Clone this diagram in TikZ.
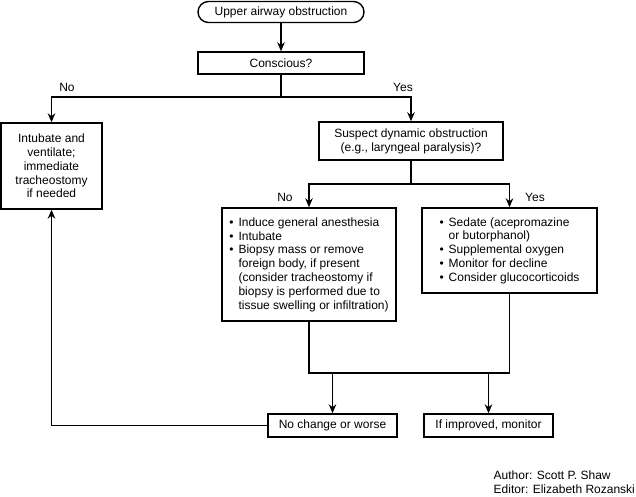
\documentclass[tikz,border=0pt]{standalone}
\usepackage{fontspec}
\setmainfont{Liberation Sans}
\usepackage{tikz}
\usetikzlibrary{arrows.meta,calc}
\newcommand{\itm}{\textbullet\hspace{5pt}}
\newcommand{\ind}{\phantom{\itm}}

\begin{document}
\begin{tikzpicture}[x=1pt,y=-1pt,>={Stealth[length=9pt,width=7.5pt]},line width=1.4pt,
  every node/.style={font=\fontsize{12}{13.8}\selectfont,inner sep=0pt},
  box/.style={draw,line width=1.4pt,rectangle,align=center},
  listbox/.style={draw,line width=1.4pt,rectangle,align=left},
  startbox/.style={draw,line width=1.4pt,rectangle,rounded corners=10.5pt,minimum width=166pt,minimum height=21pt}]
\useasboundingbox (0,0) rectangle (636,497);

% boxes
\node[startbox] (start) at (281,12) {Upper airway obstruction};
\node[box,minimum width=166pt,minimum height=22pt] (consc) at (281,63) {Conscious?};
\node[box,minimum width=101pt,minimum height=86pt] (intub) at (51.5,166) {Intubate and\\ventilate;\\immediate\\tracheostomy\\if needed};
\node[box,minimum width=184pt,minimum height=38pt] (suspect) at (411,141) {Suspect dynamic obstruction\\(e.g., laryngeal paralysis)?};
\node[listbox,minimum width=174pt,minimum height=113pt] (induce) at (309,264.5) {\itm Induce general anesthesia\\\itm Intubate\\\itm Biopsy mass or remove\\\ind foreign body, if present\\\ind (consider tracheostomy if\\\ind biopsy is performed due to\\\ind tissue swelling or infiltration)};
\node[listbox,minimum width=175pt,minimum height=85pt] (sedate) at (509.5,250.5) {\itm Sedate (acepromazine\\\ind or butorphanol)\\\itm Supplemental oxygen\\\itm Monitor for decline\\\itm Consider glucocorticoids};
\node[box,minimum width=129pt,minimum height=23pt] (nochange) at (332.5,425.5) {No change or worse};
\node[box,minimum width=129pt,minimum height=23pt] (improved) at (488.5,425.5) {If improved, monitor};

% labels
\node (no1) at (67,87) {No};
\node (yes1) at (403,87) {Yes};
\node (no2) at (285,197) {No};
\node (yes2) at (535,197) {Yes};
\node[anchor=north west,align=left] (credit) at (493,470) {Author: Scott P. Shaw\\Editor: Elizabeth Rozanski};

% connectors
\coordinate (split1) at (281,97);
\coordinate (split2) at (411,184);
\coordinate (jl) at (309,373);
\coordinate (jr) at (509.5,373);
\draw[->] (start) -- (consc);
\draw (consc.south) -- (split1);
\draw[->] (split1) -| (intub.north);
\draw[->] (split1) -| (suspect.north);
\draw (suspect.south) -- (split2);
\draw[->] (split2) -| (induce.north);
\draw[->] (split2) -| (sedate.north);
\draw (induce.south) -- (jl) -- (jr) -- (sedate.south);
\draw[->] (nochange.north |- jl) -- (nochange.north);
\draw[->] (improved.north |- jl) -- (improved.north);
\draw[->] (nochange.west) -| (intub.south);
\end{tikzpicture}
\end{document}
